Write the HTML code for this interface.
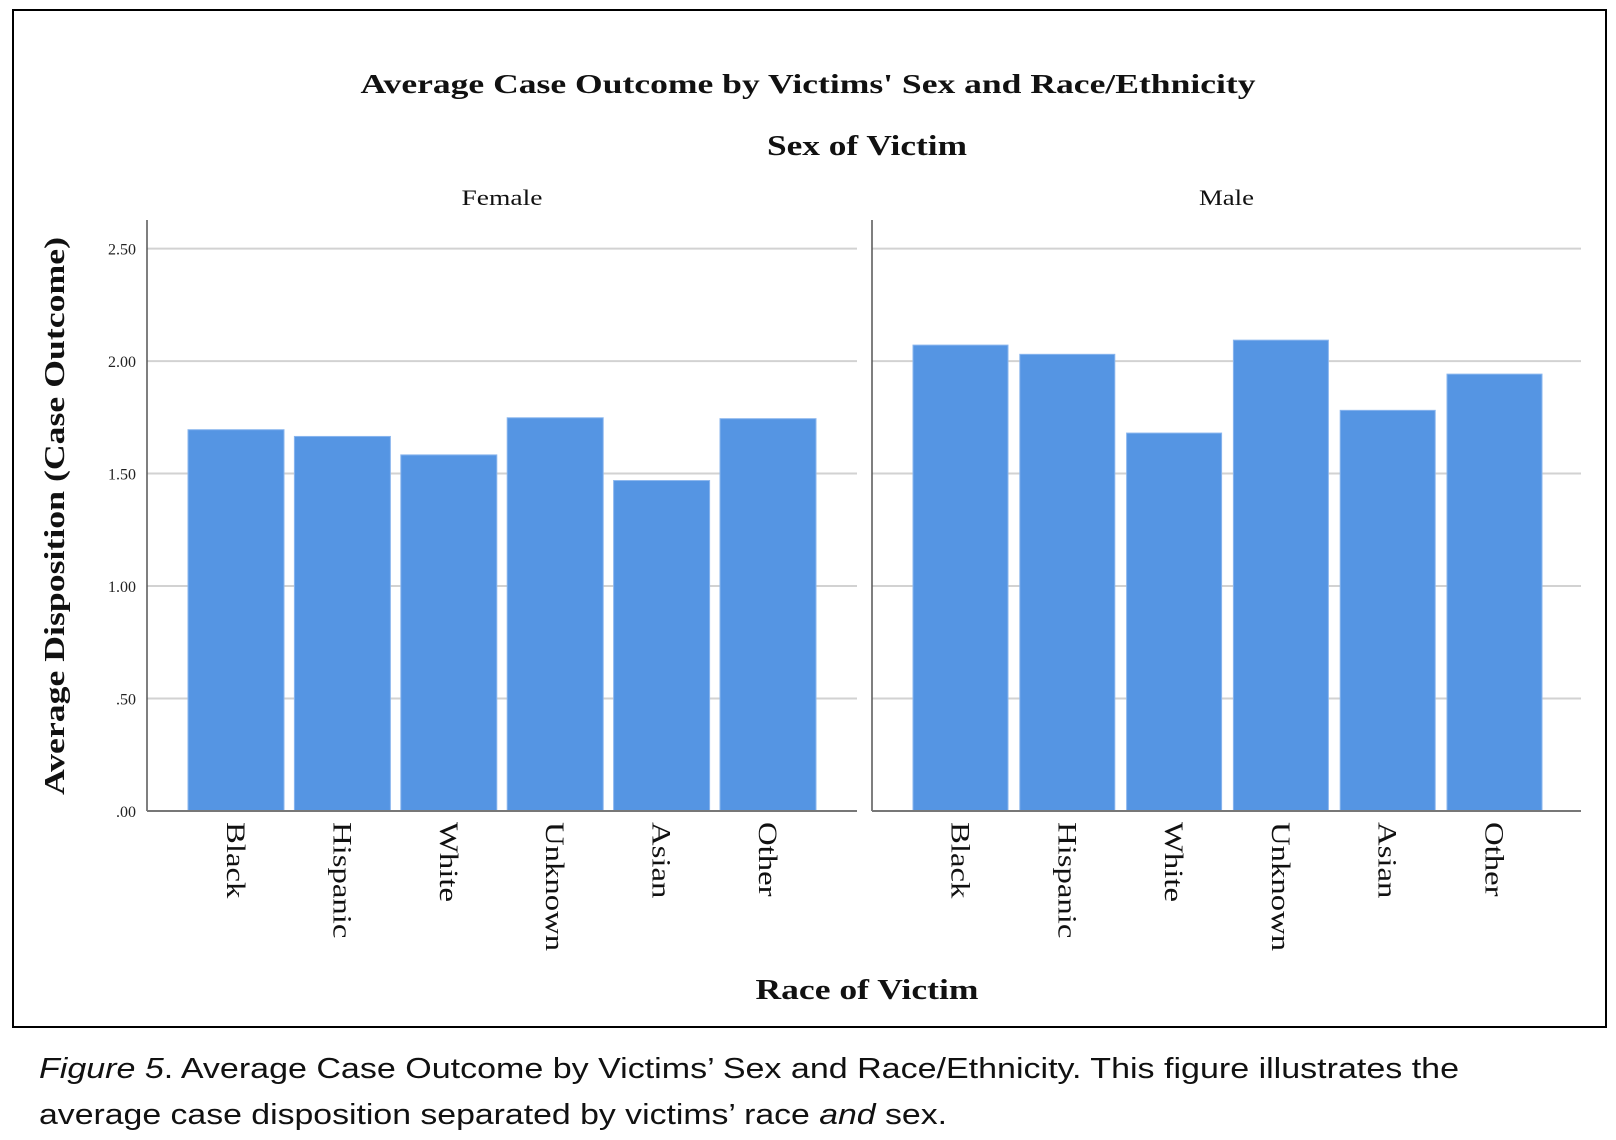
<!DOCTYPE html>
<html><head><meta charset="utf-8">
<style>
html,body{margin:0;padding:0;background:#fff;}
body{width:1616px;height:1140px;position:relative;overflow:hidden;}
#frame{position:absolute;left:12px;top:9px;width:1591px;height:1015px;border:2px solid #000;}
svg{position:absolute;left:0;top:0;}
</style></head>
<body>
<div id="frame"></div>
<svg id="chart" width="1616" height="1140">
<text x="39" y="1078" font-family="Liberation Sans, sans-serif" font-size="29" fill="#111" textLength="1420" lengthAdjust="spacingAndGlyphs"><tspan font-style="italic">Figure 5</tspan>. Average Case Outcome by Victims’ Sex and Race/Ethnicity. This figure illustrates the</text>
<text x="39" y="1124" font-family="Liberation Sans, sans-serif" font-size="29" fill="#111" textLength="908" lengthAdjust="spacingAndGlyphs">average case disposition separated by victims’ race <tspan font-style="italic">and</tspan> sex.</text>
</svg>
<script>
const categories = ["Black","Hispanic","White","Unknown","Asian","Other"];
const femaleValues = [1.695,1.665,1.583,1.748,1.469,1.744];
const maleValues = [2.071,2.030,1.680,2.093,1.781,1.942];
const panelNames = ["Female","Male"];
const tickValues = [0,0.5,1,1.5,2,2.5];
const tickLabels = [".00",".50","1.00","1.50","2.00","2.50"];

const NS="http://www.w3.org/2000/svg";
const svg=document.getElementById('chart');
function mk(tag,attrs,parent){const e=document.createElementNS(NS,tag);for(const k in attrs)e.setAttribute(k,attrs[k]);(parent||svg).appendChild(e);return e;}
const y0=811, yTop=248.6, vMax=2.5;
function yScale(v){return y0-(v/vMax)*(y0-yTop);}
const serif='"Liberation Serif",serif';

let t=mk('text',{x:808,y:93,'text-anchor':'middle','font-family':serif,'font-weight':'bold','font-size':27,fill:'#111',textLength:895,lengthAdjust:'spacingAndGlyphs'});


t.textContent="Average Case Outcome by Victims' Sex and Race/Ethnicity";
t=mk('text',{x:867,y:155,'text-anchor':'middle','font-family':serif,'font-weight':'bold','font-size':28,fill:'#111',textLength:200,lengthAdjust:'spacingAndGlyphs'});


t.textContent="Sex of Victim";
t=mk('text',{x:867,y:999,'text-anchor':'middle','font-family':serif,'font-weight':'bold','font-size':28,fill:'#111',textLength:223,lengthAdjust:'spacingAndGlyphs'});


t.textContent="Race of Victim";
t=mk('text',{x:0,y:0,'text-anchor':'middle','font-family':serif,'font-weight':'bold','font-size':28,fill:'#111',transform:'translate(64,516) rotate(-90)',textLength:558,lengthAdjust:'spacingAndGlyphs'});


t.textContent="Average Disposition (Case Outcome)";

tickValues.forEach((v,i)=>{
  const l=mk('text',{x:136,y:yScale(v)+6,'text-anchor':'end','font-family':serif,'font-size':16,fill:'#222'});
  
  
  l.textContent=tickLabels[i];
});

const panels=[
 {name:panelNames[0],vals:femaleValues,x0:147,x1:857,first:188,step:106.4,w:96,lw:81},
 {name:panelNames[1],vals:maleValues,x0:872,x1:1581,first:913,step:106.8,w:95,lw:55}
];
panels.forEach(p=>{
  const g=mk('g',{});
  
  
  const lab=mk('text',{x:(p.x0+p.x1)/2,y:205,'text-anchor':'middle','font-family':serif,'font-size':22,fill:'#111',textLength:p.lw,lengthAdjust:'spacingAndGlyphs'},g);
  
  
  lab.textContent=p.name;
  tickValues.forEach(v=>{
    if(v===0)return;
    const gl=mk('line',{x1:p.x0,x2:p.x1,y1:yScale(v),y2:yScale(v),stroke:'#d2d2d2','stroke-width':2},g);
    
    
  });
  p.vals.forEach((v,i)=>{
    const x=p.first+i*p.step;
    const b=mk('rect',{x:x,y:yScale(v),width:p.w,height:y0-yScale(v),fill:'#5595e3',stroke:'#8ab6ee','stroke-width':1},g);
    
    
    const cl=mk('text',{x:0,y:0,'font-family':serif,'font-size':26,fill:'#111',transform:`translate(${x+p.w/2-9},822) rotate(90) scale(1.26,1)`},g);
    
    
    cl.textContent=categories[i];
  });
  const ax=mk('line',{x1:p.x0,x2:p.x0,y1:220,y2:y0,stroke:'#555','stroke-width':1.5},g);
  
  
  const bx=mk('line',{x1:p.x0,x2:p.x1,y1:y0,y2:y0,stroke:'#777','stroke-width':2},g);
  
  
});
</script>
</body></html>
